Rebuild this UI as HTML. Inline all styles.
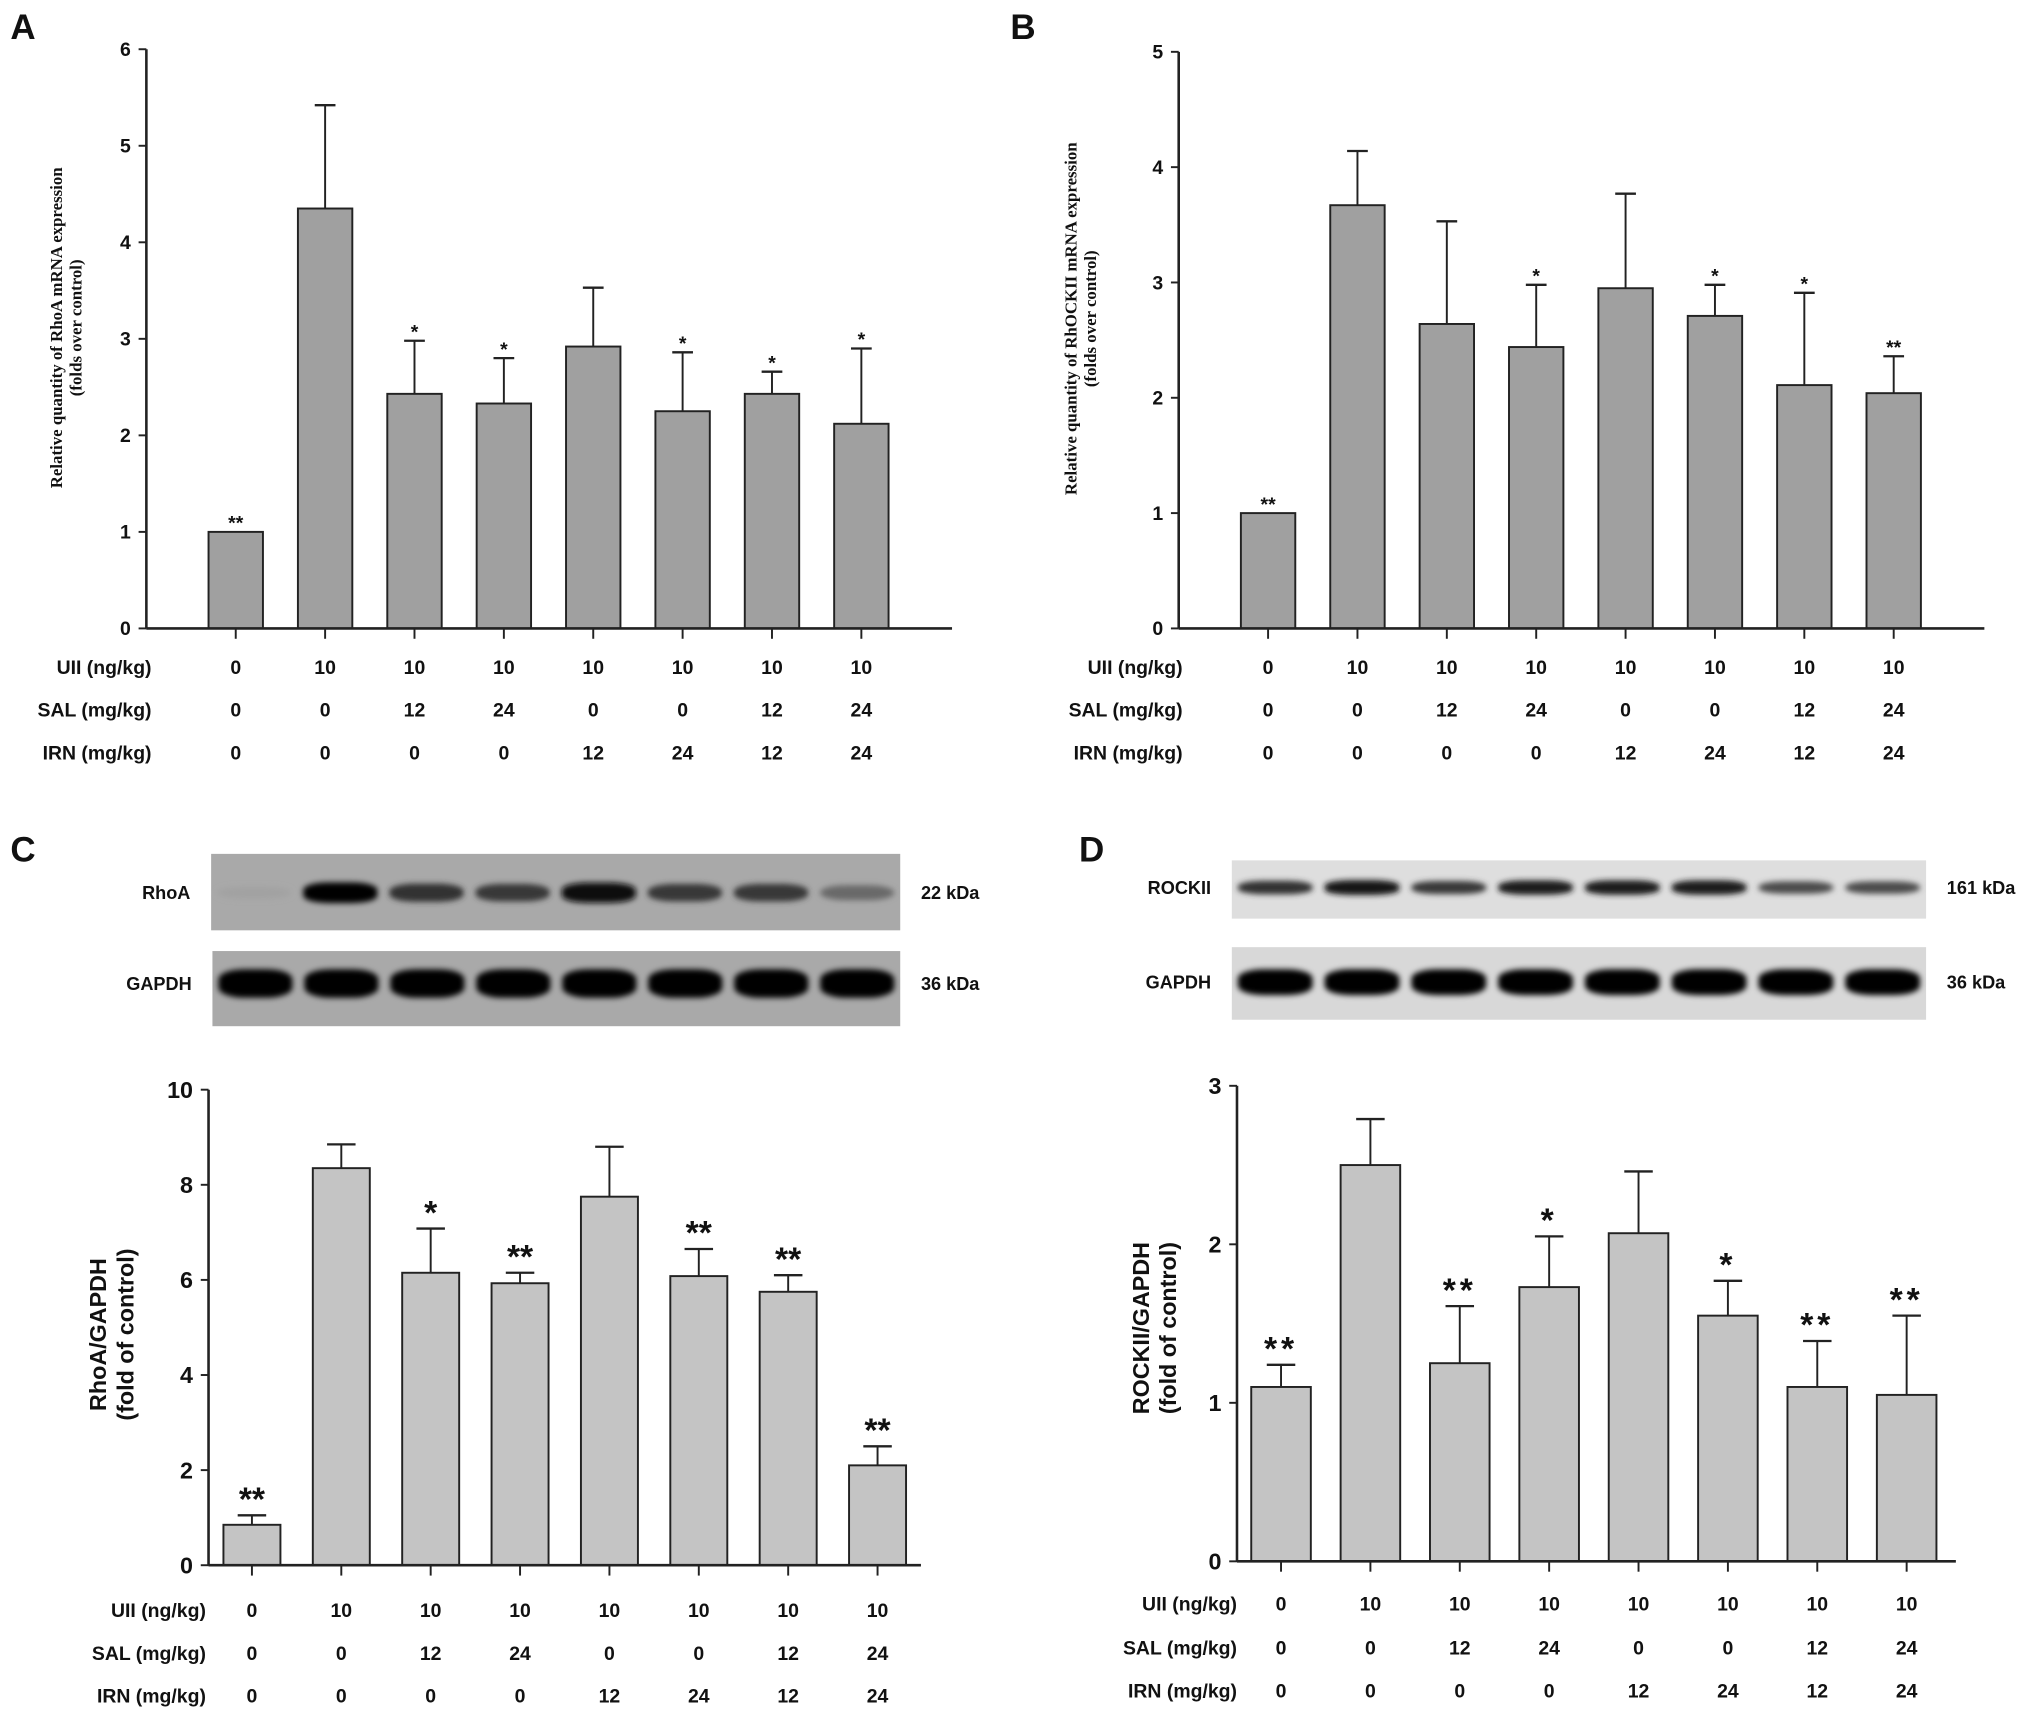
<!DOCTYPE html>
<html><head><meta charset="utf-8"><style>
html,body{margin:0;padding:0;background:#fff}
svg{display:block}
text{font-family:"Liberation Sans",Arial,sans-serif;font-weight:bold;fill:#111}
.serif{font-family:"Liberation Serif",serif}
</style></head><body>
<svg id="fig" width="2031" height="1722" viewBox="0 0 1568 1329" preserveAspectRatio="none" xmlns="http://www.w3.org/2000/svg">
<defs>
<filter id="blur" x="-20%" y="-100%" width="140%" height="300%"><feGaussianBlur stdDeviation="2.2"/></filter>
</defs>
<g id="root"></g>
</svg>
<script>
// ---- data ----
const rowLabels = ["UII (ng/kg)","SAL (mg/kg)","IRN (mg/kg)"];
const uiiRow = ["0","10","10","10","10","10","10","10"];
const salRow = ["0","0","12","24","0","0","12","24"];
const irnRow = ["0","0","0","0","12","24","12","24"];

const aValues = [1.0,4.35,2.43,2.33,2.92,2.25,2.43,2.12];
const aErrTop = [1.0,5.42,2.98,2.80,3.53,2.86,2.66,2.90];
const aStars = ["**","","*","*","","*","*","*"];
const aTicks = [0,1,2,3,4,5,6];

const bValues = [1.0,3.67,2.64,2.44,2.95,2.71,2.11,2.04];
const bErrTop = [1.0,4.14,3.53,2.98,3.77,2.98,2.91,2.36];
const bStars = ["**","","","*","","*","*","**"];
const bTicks = [0,1,2,3,4,5];

const cValues = [0.85,8.35,6.15,5.93,7.75,6.08,5.75,2.10];
const cErrTop = [1.05,8.85,7.08,6.15,8.80,6.65,6.10,2.50];
const cStars = ["**","","*","**","","**","**","**"];
const cTicks = [0,2,4,6,8,10];

const dValues = [1.10,2.50,1.25,1.73,2.07,1.55,1.10,1.05];
const dErrTop = [1.24,2.79,1.61,2.05,2.46,1.77,1.39,1.55];
const dStars = ["**","","**","*","","*","**","**"];
const dTicks = [0,1,2,3];

const rhoaBands = [0.15,1.0,0.75,0.7,0.95,0.7,0.7,0.45];
const gapdhCBands = [1,1,1,1,1,1,1,1];
const rockBands = [0.75,0.9,0.7,0.85,0.85,0.85,0.6,0.6];
const gapdhDBands = [1,1,1,1,1,1,1,1];

// ---- helpers ----
const NS="http://www.w3.org/2000/svg";
const root=document.getElementById('root');
function mk(tag,attrs,parent){const e=document.createElementNS(NS,tag);for(const k in attrs)e.setAttribute(k,attrs[k]);(parent||root).appendChild(e);return e;}
function txt(s,attrs,parent){const e=mk('text',attrs,parent);e.textContent=s;return e;}

function chart(cfg){
  const g=mk('g',{});
  
  
  const ymax=cfg.ticks[cfg.ticks.length-1];
  const y=v=>cfg.y0-(cfg.y0-cfg.yTop)*v/ymax;
  const x=i=>cfg.x1+i*cfg.step;
  const ya=mk('line',{x1:cfg.ax,y1:cfg.y0,x2:cfg.ax,y2:cfg.yTop,stroke:'#222','stroke-width':2},g);
  
  
  cfg.ticks.forEach(t=>{
    mk('line',{x1:cfg.ax-6,y1:y(t),x2:cfg.ax,y2:y(t),stroke:'#222','stroke-width':1.5},g);
    const tl=txt(String(t),{x:cfg.ax-12,y:y(t)+cfg.tickFs*0.35,'text-anchor':'end','font-size':cfg.tickFs},g);
    
    
  });
  cfg.values.forEach((v,i)=>{
    const cx=x(i);
    const et=cfg.err[i];
    if(et>v){
      mk('line',{x1:cx,y1:y(v),x2:cx,y2:y(et),stroke:'#222','stroke-width':1.5},g);
      mk('line',{x1:cx-cfg.cap,y1:y(et),x2:cx+cfg.cap,y2:y(et),stroke:'#222','stroke-width':1.8},g);
    }
    const b=mk('rect',{x:cx-cfg.bw/2,y:y(v),width:cfg.bw,height:cfg.y0-y(v),fill:cfg.fill,stroke:'#222','stroke-width':1.5},g);
    
    
    if(cfg.stars[i]){
      const s=txt(cfg.stars[i],{x:cx,y:y(Math.max(et,v))-cfg.starGap+cfg.starFs*0.55,'text-anchor':'middle','font-size':cfg.starFs,'letter-spacing':cfg.starLs||0},g);
      
      
    }
    mk('line',{x1:cx,y1:cfg.y0,x2:cx,y2:cfg.y0+8,stroke:'#222','stroke-width':1.5},g);
  });
  const xa=mk('line',{x1:cfg.ax,y1:cfg.y0,x2:cfg.axEnd,y2:cfg.y0,stroke:'#222','stroke-width':2},g);
  
  
  const yt=txt('',{transform:`translate(${cfg.ytX},${cfg.ytY}) rotate(-90)`,'text-anchor':'middle','font-size':cfg.ytFs,class:cfg.serif?'serif':''},g);
  
  
  cfg.ytLines.forEach((l,k)=>{const ts=document.createElementNS(NS,'tspan');ts.setAttribute('x',0);ts.setAttribute('y',k*cfg.ytLh);ts.textContent=l;yt.appendChild(ts);});
  [uiiRow,salRow,irnRow].forEach((row,r)=>{
    const ry=cfg.rowY[r];
    const rl=txt(rowLabels[r],{x:cfg.rowLabX,y:ry+5,'text-anchor':'end','font-size':15},g);
    
    
    row.forEach((s,i)=>{
      const c=txt(s,{x:x(i),y:ry+5,'text-anchor':'middle','font-size':15},g);
      
      
    });
  });
}

function blot(cfg){
  const g=mk('g',{});
  
  
  const bg=mk('rect',{x:cfg.x,y:cfg.y,width:cfg.w,height:cfg.h,fill:cfg.bg},g);
  
  
  const lw=cfg.w/8;
  cfg.bands.forEach((d,i)=>{
    const c=Math.round(190-190*d);
    const e=mk('rect',{x:cfg.x+lw*(i+0.07),y:cfg.y+cfg.bandY-cfg.bandH*(0.5+0.5*d),width:lw*0.86,height:2*cfg.bandH*(0.5+0.5*d),rx:lw*0.3,ry:cfg.bandH*0.7,fill:`rgb(${c},${c},${c})`,filter:'url(#blur)'},g);
    
    
  });
  const l=txt(cfg.label,{x:cfg.x-16,y:cfg.y+cfg.bandY+5,'text-anchor':'end','font-size':14},g);
  
  
  const k=txt(cfg.kda,{x:cfg.x+cfg.w+16,y:cfg.y+cfg.bandY+5,'font-size':14},g);
  
  
}

[["A",8,30],["B",780,30],["C",8,665],["D",833,665]].forEach(p=>{
  const t=txt(p[0],{x:p[1],y:p[2],'font-size':27});
  
  
});

chart({name:'chart-a-rhoa-mrna',values:aValues,err:aErrTop,stars:aStars,ticks:aTicks,ax:113,axEnd:735,y0:485,yTop:38,x1:182,step:69,bw:42,cap:8,fill:'#a0a0a0',starFs:15,starGap:10,tickFs:15,
  ytLines:['Relative quantity of RhoA mRNA expression','(folds over control)'],ytX:48,ytY:253,ytFs:13,ytLh:15,serif:true,rowY:[515,548,581],rowLabX:117});
chart({name:'chart-b-rockii-mrna',values:bValues,err:bErrTop,stars:bStars,ticks:bTicks,ax:910,axEnd:1532,y0:485,yTop:40,x1:979,step:69,bw:42,cap:8,fill:'#a0a0a0',starFs:15,starGap:10,tickFs:15,
  ytLines:['Relative quantity of RhOCKII mRNA expression','(folds over control)'],ytX:831,ytY:246,ytFs:13,ytLh:15,serif:true,rowY:[515,548,581],rowLabX:913});

blot({name:'blot-rhoa',x:163,y:659,w:532,h:59,bg:'#a9a9a9',bands:rhoaBands,bandY:30,bandH:8,label:'RhoA',kda:'22 kDa'});
blot({name:'blot-gapdh-c',x:164,y:734,w:531,h:58,bg:'#a9a9a9',bands:gapdhCBands,bandY:25,bandH:11,label:'GAPDH',kda:'36 kDa'});
blot({name:'blot-rockii',x:951,y:664,w:536,h:45,bg:'#dedede',bands:rockBands,bandY:21,bandH:6,label:'ROCKII',kda:'161 kDa'});
blot({name:'blot-gapdh-d',x:951,y:731,w:536,h:56,bg:'#d8d8d8',bands:gapdhDBands,bandY:27,bandH:10,label:'GAPDH',kda:'36 kDa'});

chart({name:'chart-c-rhoa-protein',values:cValues,err:cErrTop,stars:cStars,ticks:cTicks,ax:161,axEnd:711,y0:1208,yTop:841,x1:194.5,step:69,bw:44,cap:11,fill:'#c4c4c4',starFs:26,starGap:18,tickFs:18,
  ytLines:['RhoA/GAPDH','(fold of control)'],ytX:82,ytY:1030,ytFs:18,ytLh:21,serif:false,rowY:[1243,1276,1309],rowLabX:159});
chart({name:'chart-d-rockii-protein',values:dValues,err:dErrTop,stars:dStars,ticks:dTicks,ax:955,axEnd:1510,y0:1205,yTop:838,x1:989,step:69,bw:46,cap:11,fill:'#c4c4c4',starFs:26,starGap:18,tickFs:18,starLs:3,
  ytLines:['ROCKII/GAPDH','(fold of control)'],ytX:887,ytY:1025,ytFs:18,ytLh:21,serif:false,rowY:[1238,1272,1305],rowLabX:955});
</script>
</body></html>
